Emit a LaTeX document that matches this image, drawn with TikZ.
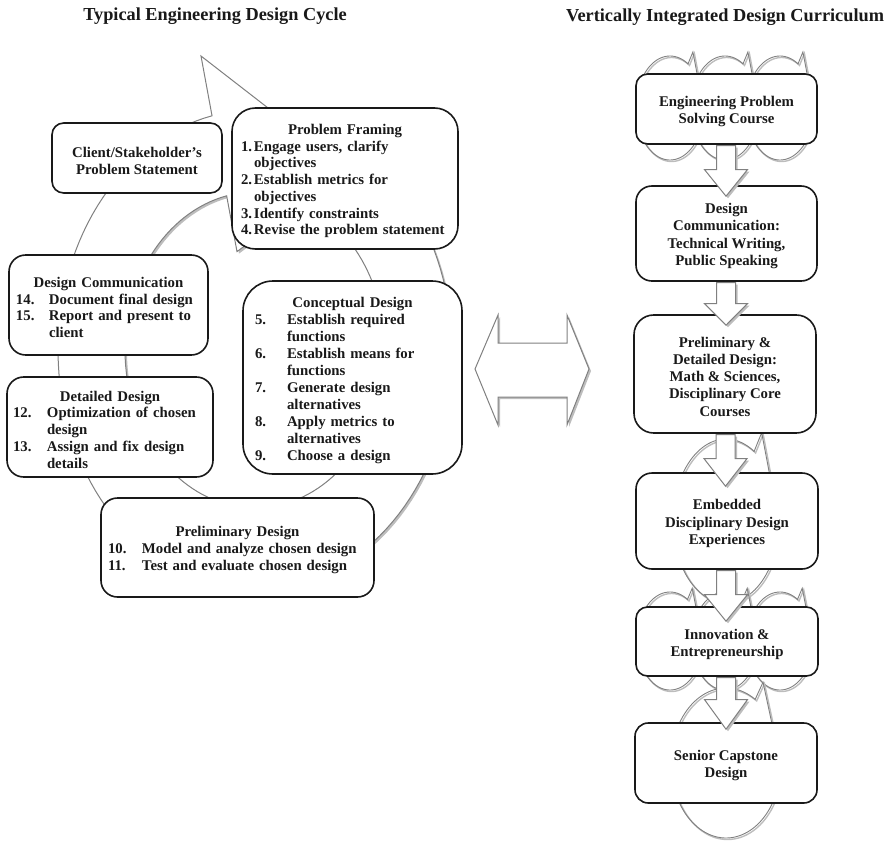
\documentclass[tikz,border=0pt]{standalone}
\usepackage{fontspec}
\setmainfont{Liberation Serif}
\usetikzlibrary{calc}
\definecolor{lineg}{gray}{0.5}
\definecolor{shadg}{gray}{0.74}
\definecolor{boxline}{gray}{0.1}
\definecolor{txt}{gray}{0.1}
\newcommand{\itm}[3]{\hspace*{#1}\makebox[#2][l]{#3}}
\newcommand{\tf}{\rule{0pt}{15.4pt}}
\newcommand{\loopcyc}[4]{%
  \draw[loopshadow] plot[domain=0:287,samples=90,variable=\s] ({#1+1.5+#3*cos(-15-\s)},{#2+1.5-#4*sin(-15-\s)}) -- ({#1+1.5+1.27*#3*cos(58)},{#2+1.5-1.27*#4*sin(58)}) -- ({#1+1.5+0.95*#3*cos(15)},{#2+1.5-0.95*#4*sin(15)});
  \draw[loopline] plot[domain=0:287,samples=90,variable=\s] ({#1+#3*cos(-15-\s)},{#2-#4*sin(-15-\s)}) -- ({#1+1.27*#3*cos(58)},{#2-1.27*#4*sin(58)}) -- ({#1+0.95*#3*cos(15)},{#2-0.95*#4*sin(15)});
}
\newcommand{\blockdown}[3]{%
  \fill[shadg] let \p1=(#1), \p2=(#2) in
    (\x1-9.5pt+2pt,\y1-2pt) -- (\x1+9.5pt+2pt,\y1-2pt) -- (\x1+9.5pt+2pt,\y1-#3-2pt) -- (\x1+21.5pt+2pt,\y1-#3-2pt) -- (\x1+2pt,\y2-2pt) -- (\x1-21.5pt+2pt,\y1-#3-2pt) -- (\x1-9.5pt+2pt,\y1-#3-2pt) -- cycle;
  \filldraw[blockarrow] let \p1=(#1), \p2=(#2) in
    (\x1-9.5pt,\y1) -- (\x1+9.5pt,\y1) -- (\x1+9.5pt,\y1-#3) -- (\x1+21.5pt,\y1-#3) -- (\x1,\y2) -- (\x1-21.5pt,\y1-#3) -- (\x1-9.5pt,\y1-#3) -- cycle;
}
\tikzset{
  box/.style={draw=boxline, line width=1.6pt, fill=white, rectangle, inner sep=0pt, align=left, text=txt, font=\fontsize{14.8}{16.7}\selectfont\bfseries},
  cbox/.style={box, align=center, font=\fontsize{14.8}{17.2}\selectfont\bfseries},
  loopline/.style={draw=lineg, line width=0.9pt},
  loopshadow/.style={draw=shadg, line width=1.4pt},
  blockarrow/.style={fill=white, draw=lineg, line width=1pt},
  bigcycle/.style={fill=white, draw=lineg, line width=1pt},
  title/.style={font=\fontsize{18.3}{22}\selectfont\bfseries, text=txt, inner sep=0pt}
}
\begin{document}
\begin{tikzpicture}[x=1pt,y=-1pt]
\useasboundingbox (0,0) rectangle (891,843);

% ---- big cycle arrow (left) ----
\fill[shadg] plot[domain=0:302.4,samples=121,variable=\s] ({257+197*cos(45-\s)},{352-240*sin(45-\s)})
  -- (203,58) -- (350,172) -- (239,253.6)
  -- plot[domain=0:302.4,samples=121,variable=\s] ({257+130*cos(-257.4+\s)},{352-158*sin(-257.4+\s)}) -- cycle;
\path[bigcycle] plot[domain=0:302.4,samples=121,variable=\s] ({255+197*cos(45-\s)},{350-240*sin(45-\s)})
  -- (201,56) -- (348,170) -- (237,251.6)
  -- plot[domain=0:302.4,samples=121,variable=\s] ({255+130*cos(-257.4+\s)},{350-158*sin(-257.4+\s)}) -- cycle;

% ---- small cycle shapes (right) ----
\loopcyc{670}{108}{34}{52}
\loopcyc{725}{108}{34}{52}
\loopcyc{780}{108}{34}{52}
\loopcyc{726}{521}{53}{82}
\loopcyc{670}{641}{33}{49}
\loopcyc{725}{641}{33}{49}
\loopcyc{780}{641}{33}{49}
\loopcyc{726}{763}{55}{75}

% ---- left boxes ----
\node[cbox, rounded corners=11.7pt, minimum width=170pt, minimum height=70pt] (client) at (137,158)
  {\tf Client/Stakeholder’s\\Problem Statement};

\node[box, rounded corners=23.5pt, minimum width=226pt, minimum height=141pt, text width=226pt] (pf) at (345,178.5)
  {\tf\makebox[\linewidth]{Problem Framing}\\
   \itm{9pt}{13pt}{1.}Engage users, clarify\\
   \hspace*{22pt}objectives\\
   \itm{9pt}{13pt}{2.}Establish metrics for\\
   \hspace*{22pt}objectives\\
   \itm{9pt}{13pt}{3.}Identify constraints\\
   \itm{9pt}{13pt}{4.}Revise the problem statement};

\node[box, rounded corners=16.7pt, minimum width=199pt, minimum height=100pt, text width=199pt] (dcomm) at (108.5,305)
  {\tf\makebox[\linewidth]{Design Communication}\\
   \itm{7pt}{33pt}{14.}Document final design\\
   \itm{7pt}{33pt}{15.}Report and present to\\
   \hspace*{40pt}client};

\node[box, rounded corners=16.7pt, minimum width=206pt, minimum height=100pt, text width=206pt] (ddes) at (110,427)
  {\tf\makebox[\linewidth]{Detailed Design}\\
   \itm{6pt}{34pt}{12.}Optimization of chosen\\
   \hspace*{40pt}design\\
   \itm{6pt}{34pt}{13.}Assign and fix design\\
   \hspace*{40pt}details};

\node[box, rounded corners=30pt, minimum width=219pt, minimum height=193pt, text width=219pt, font=\fontsize{14.8}{17}\selectfont\bfseries] (concept) at (352.5,377.5)
  {\tf\makebox[\linewidth]{Conceptual Design}\\
   \itm{12pt}{32pt}{5.}Establish required\\
   \hspace*{44pt}functions\\
   \itm{12pt}{32pt}{6.}Establish means for\\
   \hspace*{44pt}functions\\
   \itm{12pt}{32pt}{7.}Generate design\\
   \hspace*{44pt}alternatives\\
   \itm{12pt}{32pt}{8.}Apply metrics to\\
   \hspace*{44pt}alternatives\\
   \itm{12pt}{32pt}{9.}Choose a design};

\node[box, rounded corners=16.5pt, minimum width=273pt, minimum height=99pt, text width=273pt] (prelim) at (237.5,547.5)
  {\tf\makebox[\linewidth]{Preliminary Design}\\
   \itm{7pt}{34pt}{10.}Model and analyze chosen design\\
   \itm{7pt}{34pt}{11.}Test and evaluate chosen design};

% ---- right boxes ----
\node[cbox, rounded corners=11.7pt, minimum width=181pt, minimum height=70pt] (b1) at (726.5,109)
  {\tf Engineering Problem\\Solving Course};
\node[cbox, rounded corners=15.8pt, minimum width=181pt, minimum height=95pt] (b2) at (726.5,233.5)
  {\tf Design\\Communication:\\Technical Writing,\\Public Speaking};
\node[cbox, rounded corners=19.7pt, minimum width=182pt, minimum height=118pt] (b3) at (725,374)
  {\tf Preliminary \&\\Detailed Design:\\Math \& Sciences,\\Disciplinary Core\\Courses};
\node[cbox, rounded corners=16pt, minimum width=182pt, minimum height=96pt] (b4) at (727,521)
  {\tf Embedded\\Disciplinary Design\\Experiences};
\node[cbox, rounded corners=11.5pt, minimum width=182pt, minimum height=69pt] (b5) at (727,641.5)
  {\tf Innovation \&\\Entrepreneurship};
\node[cbox, rounded corners=13.3pt, minimum width=182pt, minimum height=80pt] (b6) at (726,763)
  {\tf Senior Capstone\\Design};

% ---- block arrows between right boxes ----
\coordinate (a1s) at ($(b1.south)+(-0.5,0.8)$);
\coordinate (a1t) at ($(b2.north)+(0,11)$);
\coordinate (a2s) at ($(b2.south)+(-0.5,0.8)$);
\coordinate (a2t) at ($(b3.north)+(0,11)$);
\coordinate (a3s) at ($(b3.south)+(0.5,0.8)$);
\coordinate (a3t) at ($(b4.north)+(0,14)$);
\coordinate (a4s) at ($(b4.south)+(-1,0.8)$);
\coordinate (a4t) at ($(b5.north)+(0,15)$);
\coordinate (a5s) at ($(b5.south)+(-1,0.8)$);
\coordinate (a5t) at ($(b6.north)+(0,7)$);
\blockdown{a1s}{a1t}{24pt}
\blockdown{a2s}{a2t}{21pt}
\blockdown{a3s}{a3t}{24pt}
\blockdown{a4s}{a4t}{24pt}
\blockdown{a5s}{a5t}{22pt}

% ---- double arrow in the middle ----
\fill[shadg] (477,371) -- (500,317) -- (500,345) -- (569,345) -- (569,317) -- (591,371) -- (569,427) -- (569,399) -- (500,399) -- (500,427) -- cycle;
\filldraw[blockarrow] (475,369) -- (498,315) -- (498,343) -- (567,343) -- (567,315) -- (589,369) -- (567,425) -- (567,397) -- (498,397) -- (498,425) -- cycle;

% ---- titles ----
\node[title] (ttlL) at (215,16.5) {Typical Engineering Design Cycle};
\node[title] (ttlR) at (725,17) {Vertically Integrated Design Curriculum};
\end{tikzpicture}
\end{document}
